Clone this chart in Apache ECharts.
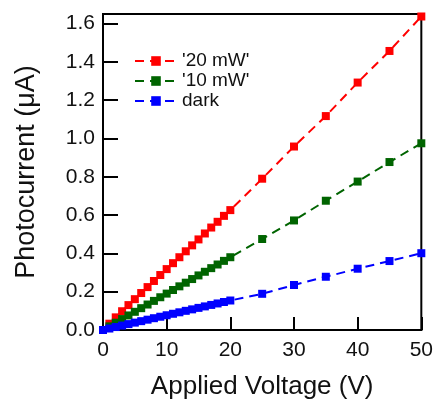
<!DOCTYPE html>
<html>
<head>
<meta charset="utf-8">
<script src="https://cdn.jsdelivr.net/npm/echarts@6/dist/echarts.min.js"></script>
<style>
html,body{margin:0;padding:0;background:#fff;}
#chart{width:436px;height:405px;}
</style>
</head>
<body>
<div id="chart"></div>
<script>
// voltages: 0..20 step 1, then 25..50 step 5
var voltage = [0,1,2,3,4,5,6,7,8,9,10,11,12,13,14,15,16,17,18,19,20,25,30,35,40,45,50];
var red20 = [0,0.033,0.066,0.098,0.130,0.161,0.193,0.224,0.256,0.287,0.318,0.349,0.380,0.411,0.442,0.473,0.504,0.535,0.565,0.596,0.626,0.79,0.958,1.117,1.292,1.457,1.637];
var green10 = [0,0.019,0.038,0.057,0.076,0.095,0.114,0.133,0.152,0.171,0.190,0.209,0.228,0.247,0.266,0.285,0.304,0.323,0.342,0.361,0.38,0.475,0.572,0.675,0.775,0.877,0.975];
var dark = [0,0.0077,0.0154,0.0231,0.0308,0.0385,0.0462,0.0539,0.0616,0.0693,0.077,0.0847,0.0924,0.1001,0.1078,0.1155,0.1232,0.1309,0.1386,0.1463,0.154,0.189,0.235,0.278,0.32,0.36,0.401];
var seriesNames = ["'20 mW'", "'10 mW'", "dark"];
var seriesColors = ['#ff0000', '#006400', '#0000ff'];

function pairs(ys) {
	var out = [];
	for (var i = 0; i < voltage.length; i++) {
		out.push([voltage[i], ys[i]]);
	}
	return out;
}

function makeSerie(name, ys, color) {
	return {
		name: name,
		type: 'line',
		data: pairs(ys),
		symbol: 'rect',
		symbolSize: 8,
		showSymbol: true,
		itemStyle: { color: color },
		lineStyle: { color: color, width: 2, type: [9, 6] },
		z: 3
	};
}

var myChart = echarts.init(document.getElementById('chart'));
var font = 'Liberation Sans, Arial, sans-serif';
var option = {
	animation: false,
	grid: {
		left: 103, right: 13, top: 14, bottom: 71,
		show: true, borderColor: '#000', borderWidth: 2, backgroundColor: 'transparent'
	},
	legend: {
		left: 134, top: 51, padding: 0,
		orient: 'vertical',
		itemWidth: 42, itemHeight: 12, itemGap: 0,
		textStyle: { fontFamily: font, fontSize: 19, lineHeight: 20, color: '#111' },
		data: seriesNames
	},
	xAxis: {
		type: 'value',
		min: 0, max: 50, interval: 10,
		name: 'Applied Voltage (V)',
		nameLocation: 'middle', nameGap: 44,
		nameTextStyle: { fontFamily: font, fontSize: 26, color: '#111' },
		axisLine: { show: true, lineStyle: { color: '#000', width: 2 } },
		axisTick: { show: true, inside: true, length: 13, lineStyle: { color: '#000', width: 2 } },
		axisLabel: { fontFamily: font, fontSize: 21, color: '#111', margin: 10 },
		splitLine: { show: false }
	},
	yAxis: {
		type: 'value',
		min: 0, max: 1.65, interval: 0.2,
		name: 'Photocurrent (\u03bcA)',
		nameLocation: 'middle', nameGap: 63,
		nameTextStyle: { fontFamily: font, fontSize: 27, color: '#111' },
		axisLine: { show: true, lineStyle: { color: '#000', width: 2 } },
		axisTick: { show: true, inside: true, length: 15, lineStyle: { color: '#000', width: 2 } },
		axisLabel: {
			fontFamily: font, fontSize: 21, color: '#111', margin: 8,
			showMaxLabel: false,
			formatter: function (v) { return v.toFixed(1); }
		},
		splitLine: { show: false }
	},
	series: [
		makeSerie(seriesNames[0], red20, seriesColors[0]),
		makeSerie(seriesNames[1], green10, seriesColors[1]),
		makeSerie(seriesNames[2], dark, seriesColors[2])
	]
};
myChart.setOption(option);
</script>
</body>
</html>
